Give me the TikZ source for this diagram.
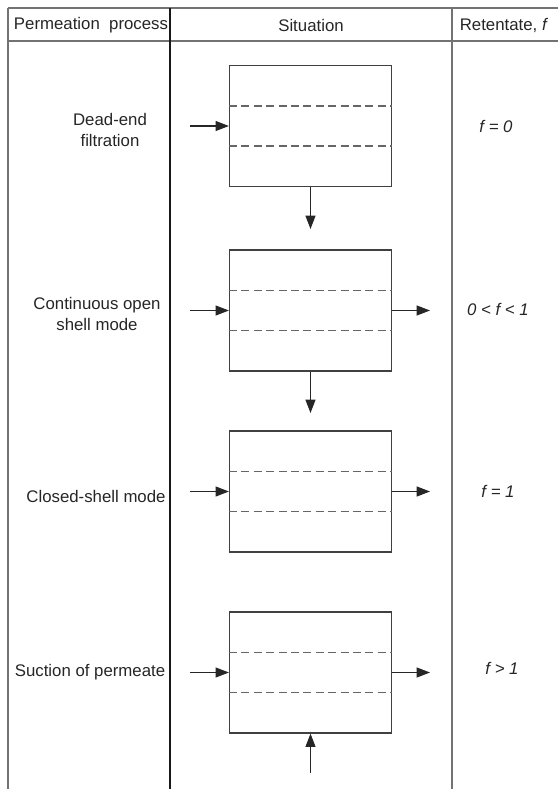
\documentclass[tikz,border=0pt]{standalone}
\usepackage{fontspec}
\setmainfont{Liberation Sans}
\usetikzlibrary{arrows.meta}

\tikzset{
  vessel/.style={draw=black!75, line width=0.9pt, minimum width=121.5pt,
    minimum height=90.75pt, inner sep=0pt},
  flow/.style={draw=black!85, line width=0.8pt, -{Triangle[length=10pt,width=7.5pt]}},
  membrane/.style={draw=black!60, line width=1pt, dash pattern=on 6pt off 3.3pt},
  rule/.style={draw=black!55, line width=0.8pt},
  label/.style={font=\fontsize{12.6}{15.5}\selectfont, align=center, inner sep=0pt,
    text=black!85}
}

\begin{document}
\begin{tikzpicture}[x=0.75pt,y=-0.75pt]
          \useasboundingbox (0,0) rectangle (558,789);

          % table rules
          \draw[rule] (8,8) -- (558,8);
          \draw[rule] (8,41) -- (558,41);
          \draw[rule] (8,8) -- (8,789);
          \draw[rule,draw=black!90] (170,8) -- (170,789);
          \draw[rule] (452,8) -- (452,789);

          % header
          \node[label] (hproc) at (91,25) {Permeation\ \ process};
          \node[label] (hsit)  at (311,25) {Situation};
          \node[label] (hret)  at (504,25) {Retentate, \textit{f}};

          % process names
          \node[label] (pdead)  at (110,130) {Dead-end\\filtration};
          \node[label] (popen)  at (97,314)  {Continuous open\\shell mode};
          \node[label] (pclose) at (96,496)  {Closed-shell mode};
          \node[label] (psuct)  at (90,672)  {Suction of permeate};

          % retentate values
          \node[label,font=\fontsize{12.6}{15.5}\selectfont\itshape] (rdead)  at (496,126) {f = 0};
          \node[label,font=\fontsize{12.6}{15.5}\selectfont\itshape] (ropen)  at (498,309) {0 < f < 1};
          \node[label,font=\fontsize{12.6}{15.5}\selectfont\itshape] (rclose) at (498,491) {f = 1};
          \node[label,font=\fontsize{12.6}{15.5}\selectfont\itshape] (rsuct)  at (502,668) {f > 1};

          % modules
          \node[vessel] (mdead)  at (310.5,126)   {};
          \node[vessel] (mopen)  at (310.5,310.5) {};
          \node[vessel] (mclose) at (310.5,491.5) {};
          \node[vessel] (msuct)  at (310.5,672.5) {};

          % membranes
          \foreach \m in {mdead,mopen,mclose,msuct} {
            \draw[membrane] ([yshift=15pt]\m.west) -- ([yshift=15pt]\m.east);
            \draw[membrane] ([yshift=-15pt]\m.west) -- ([yshift=-15pt]\m.east);
          }

          % feed in
          \coordinate (fdead)  at (190,126);
          \coordinate (fopen)  at (190,310.5);
          \coordinate (fclose) at (190,491.5);
          \coordinate (fsuct)  at (190,672.5);
          \draw[flow] (fdead) -- (mdead.west);
          \draw[flow] (fopen) -- (mopen.west);
          \draw[flow] (fclose) -- (mclose.west);
          \draw[flow] (fsuct) -- (msuct.west);

          % retentate out
          \coordinate (oopen)  at (430,310.5);
          \coordinate (oclose) at (430,491.5);
          \coordinate (osuct)  at (430,672.5);
          \draw[flow] (mopen.east) -- (oopen);
          \draw[flow] (mclose.east) -- (oclose);
          \draw[flow] (msuct.east) -- (osuct);

          % permeate
          \coordinate (pdn1) at (310.5,229);
          \coordinate (pdn2) at (310.5,413);
          \coordinate (pup)  at (310.5,773);
          \draw[flow] (mdead.south) -- (pdn1);
          \draw[flow] (mopen.south) -- (pdn2);
          \draw[flow] (pup) -- (msuct.south);
      \end{tikzpicture}
\end{document}
